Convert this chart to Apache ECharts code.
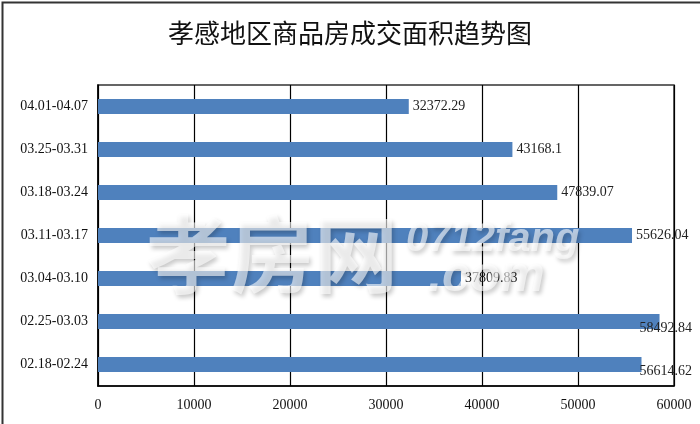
<!DOCTYPE html>
<html><head><meta charset="utf-8">
<script src="https://cdn.jsdelivr.net/npm/echarts@6/dist/echarts.min.js"></script>
<style>html,body{margin:0;padding:0;background:#fff}#c{width:700px;height:424px}</style>
</head><body><div id="c"></div>
<script>
const categories = ['02.18-02.24','02.25-03.03','03.04-03.10','03.11-03.17','03.18-03.24','03.25-03.31','04.01-04.07'];
const values = [56614.62, 58492.84, 37809.83, 55626.04, 47839.07, 43168.1, 32372.29];
const valueLabels = ['56614.62','58492.84','37809.83','55626.04','47839.07','43168.1','32372.29'];
const titleText = '孝感地区商品房成交面积趋势图';
const serif = '"Liberation Serif","DejaVu Serif",serif';
const chart = echarts.init(document.getElementById('c'));
const wmStyle = { fill: 'rgba(255,255,255,0.6)', textShadowColor: 'rgba(0,0,0,0.35)', textShadowBlur: 4, textShadowOffsetX: 2, textShadowOffsetY: 3 };
chart.setOption({
  animation: false,
  backgroundColor: '#fff',
  title: { text: titleText, left: 'center', top: 15,
    textStyle: { fontFamily: '"Noto Sans CJK SC"', fontSize: 26, fontWeight: 'normal', color: '#111' } },
  grid: { left: 98, right: 26, top: 85, bottom: 38, show: true, borderColor: '#333', borderWidth: 1.5 },
  xAxis: { type: 'value', min: 0, max: 60000, interval: 10000,
    axisLine: { show: true, lineStyle: { color: '#000', width: 1.5 } },
    axisTick: { show: false },
    splitLine: { show: true, lineStyle: { color: '#000', width: 1.2 } },
    axisLabel: { margin: 12, fontFamily: serif, fontSize: 14, color: '#111', formatter: v => String(v) } },
  yAxis: { type: 'category', data: categories,
    axisLine: { show: true, lineStyle: { color: '#000', width: 1.5 } },
    axisTick: { show: false },
    axisLabel: { margin: 10, fontFamily: serif, fontSize: 14, color: '#111' } },
  series: [{ type: 'bar', data: values, barWidth: 15,
    itemStyle: { color: '#4F81BD' },
    label: { show: true, position: 'right', distance: 4, fontFamily: serif, fontSize: 14, color: '#222',
      formatter: p => valueLabels[p.dataIndex] },
    labelLayout: function (p) {
      const r = p.labelRect;
      const maxRight = 692;
      if (r.x + r.width > maxRight) return { x: maxRight - r.width, align: 'left' };
      return {};
    } }],
  graphic: [
    { type: 'rect', left: 0, top: 0, shape: { width: 699, height: 423 }, style: { fill: 'none', stroke: '#333', lineWidth: 2 }, silent: true },
    { type: 'text', left: 146, top: 212, z: 100, style: Object.assign({ text: '孝房网', fontSize: 84, fontWeight: 'bold', fontFamily: '"Noto Sans CJK SC"' }, wmStyle) },
    { type: 'text', left: 406, top: 220, z: 100, style: Object.assign({ text: '0712fang', fontSize: 40, fontStyle: 'italic', fontWeight: 'bold', fontFamily: '"Liberation Sans"' }, wmStyle) },
    { type: 'text', left: 428, top: 252, z: 100, style: Object.assign({ text: '.com', fontSize: 50, fontStyle: 'italic', fontWeight: 'bold', fontFamily: '"Liberation Sans"' }, wmStyle) }
  ]
});
</script></body></html>
